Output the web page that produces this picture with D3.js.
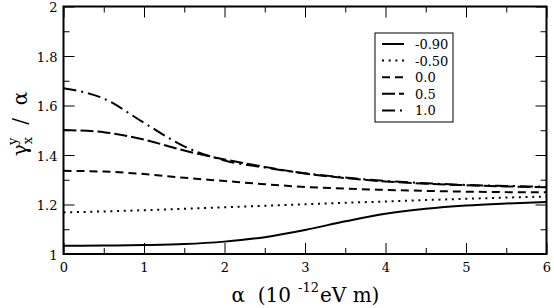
<!DOCTYPE html>
<html>
<head>
<meta charset="utf-8">
<script src="https://cdn.jsdelivr.net/npm/d3@7"></script>
<style>
  body { margin: 0; background: #fff; }
</style>
</head>
<body>
<div id="chart"></div>
<script>
const alphaValues = [0, 0.5, 1, 1.5, 2, 2.5, 3, 3.5, 4, 4.5, 5, 5.5, 6];
const seriesM090 = [1.033, 1.034, 1.036, 1.040, 1.050, 1.068, 1.097, 1.132, 1.163, 1.183, 1.196, 1.204, 1.210];
const seriesM050 = [1.168, 1.172, 1.177, 1.183, 1.189, 1.195, 1.201, 1.207, 1.212, 1.218, 1.223, 1.228, 1.232];
const series00 = [1.336, 1.333, 1.323, 1.308, 1.295, 1.282, 1.271, 1.264, 1.259, 1.255, 1.252, 1.250, 1.249];
const series05 = [1.501, 1.492, 1.462, 1.418, 1.382, 1.352, 1.325, 1.307, 1.293, 1.284, 1.278, 1.273, 1.270];
const series10 = [1.670, 1.628, 1.530, 1.435, 1.378, 1.349, 1.326, 1.309, 1.295, 1.286, 1.279, 1.275, 1.272];
const legendLabels = ["-0.90", "-0.50", "0.0", "0.5", "1.0"];
const xTicks = [0, 1, 2, 3, 4, 5, 6];
const yTicks = [1, 1.2, 1.4, 1.6, 1.8, 2];

const serif = "'DejaVu Serif', serif";
const W = 554, H = 308;
const margin = {top: 6.5, right: 7.5, bottom: 54, left: 63.5};
const width = W - margin.left - margin.right;
const height = H - margin.top - margin.bottom;

const svg = d3.select("#chart").append("svg")
    .attr("width", W)
    .attr("height", H)
    .style("font-family", serif);

const g = svg.append("g")
    .attr("transform", "translate(" + margin.left + "," + margin.top + ")");

const x = d3.scaleLinear().domain([0, 6]).range([0, width]);
const y = d3.scaleLinear().domain([1, 2]).range([height, 0]);

const xMinor = d3.range(0.5, 6, 1);
const yMinor = d3.range(1.1, 2, 0.2);

function styleAxis(sel) {
    sel.attr("font-family", null).attr("font-size", 13);
    sel.select(".domain").remove();
    sel.selectAll("line").attr("stroke", "#000").attr("stroke-width", 1);
    sel.selectAll("text").attr("fill", "#000");
}

// bottom
g.append("g").attr("transform", "translate(0," + height + ")")
    .call(d3.axisBottom(x).tickValues(xTicks).tickSize(-11).tickFormat(d3.format("d")))
    .call(styleAxis)
    .selectAll("text").attr("dy", "0.71em").attr("y", 9);
g.append("g").attr("transform", "translate(0," + height + ")")
    .call(d3.axisBottom(x).tickValues(xMinor).tickSize(-6).tickFormat(""))
    .call(styleAxis);
// top
g.append("g")
    .call(d3.axisTop(x).tickValues(xTicks).tickSize(-11).tickFormat(""))
    .call(styleAxis);
g.append("g")
    .call(d3.axisTop(x).tickValues(xMinor).tickSize(-6).tickFormat(""))
    .call(styleAxis);
// left
g.append("g")
    .call(d3.axisLeft(y).tickValues(yTicks).tickSize(-11).tickPadding(6).tickFormat(d => d === 1 || d === 2 ? d3.format("d")(d) : d3.format(".1f")(d)))
    .call(styleAxis)
    .selectAll("text").attr("dy", "0.4em");
g.append("g")
    .call(d3.axisLeft(y).tickValues(yMinor).tickSize(-6).tickFormat(""))
    .call(styleAxis);
// right
g.append("g").attr("transform", "translate(" + width + ",0)")
    .call(d3.axisRight(y).tickValues(yTicks).tickSize(-11).tickFormat(""))
    .call(styleAxis);
g.append("g").attr("transform", "translate(" + width + ",0)")
    .call(d3.axisRight(y).tickValues(yMinor).tickSize(-6).tickFormat(""))
    .call(styleAxis);

g.append("rect")
    .attr("width", width).attr("height", height)
    .attr("fill", "none").attr("stroke", "#000").attr("stroke-width", 2);

const seriesList = [
    {values: seriesM090, dash: null},
    {values: seriesM050, dash: "2,4.7"},
    {values: series00, dash: "8,5"},
    {values: series05, dash: "13,4"},
    {values: series10, dash: "13,5,2,5"}
];

const line = d3.line()
    .x(d => x(d[0]))
    .y(d => y(d[1]))
    .curve(d3.curveMonotoneX);

seriesList.forEach(s => {
    g.append("path")
        .datum(alphaValues.map((a, i) => [a, s.values[i]]))
        .attr("d", line)
        .attr("fill", "none")
        .attr("stroke", "#000")
        .attr("stroke-width", 2)
        .attr("stroke-dasharray", s.dash);
});

// legend
const legend = svg.append("g").attr("transform", "translate(375,33)");
legend.append("rect")
    .attr("width", 78).attr("height", 89)
    .attr("fill", "#fff").attr("stroke", "#000").attr("stroke-width", 1);

const legendItems = legend.selectAll(".item")
    .data(seriesList.map((s, i) => ({dash: s.dash, text: legendLabels[i]})))
    .enter().append("g")
    .attr("transform", (d, i) => `translate(0, ${11 + i * 16.6})`);

legendItems.append("line")
    .attr("x1", 7).attr("x2", 29)
    .attr("stroke", "#000").attr("stroke-width", 2)
    .attr("stroke-dasharray", d => d.dash);

legendItems.append("text")
    .attr("x", 40).attr("y", 5)
    .attr("font-size", 13)
    .text(d => d.text);

// axis titles
svg.append("text")
    .attr("x", 291).attr("y", 302)
    .attr("text-anchor", "end")
    .attr("font-size", 20)
    .attr("xml:space", "preserve")
    .text("α  (10");
svg.append("text")
    .attr("x", 298).attr("y", 292)
    .attr("font-size", 13)
    .text("-12");
svg.append("text")
    .attr("x", 320).attr("y", 302)
    .attr("font-size", 20)
    .attr("xml:space", "preserve")
    .text("eV m)");

const yTitle = svg.append("text")
    .attr("transform", "translate(27,124) rotate(-90)")
    .attr("text-anchor", "middle")
    .attr("font-size", 20)
    .attr("xml:space", "preserve");
yTitle.append("tspan").text("γ");
yTitle.append("tspan").attr("dy", 5).attr("font-size", 13).text("x");
yTitle.append("tspan").attr("dy", -15).attr("dx", -8).attr("font-size", 13).text("y");
yTitle.append("tspan").attr("dy", 10).text("  /  α");
</script>
</body>
</html>
